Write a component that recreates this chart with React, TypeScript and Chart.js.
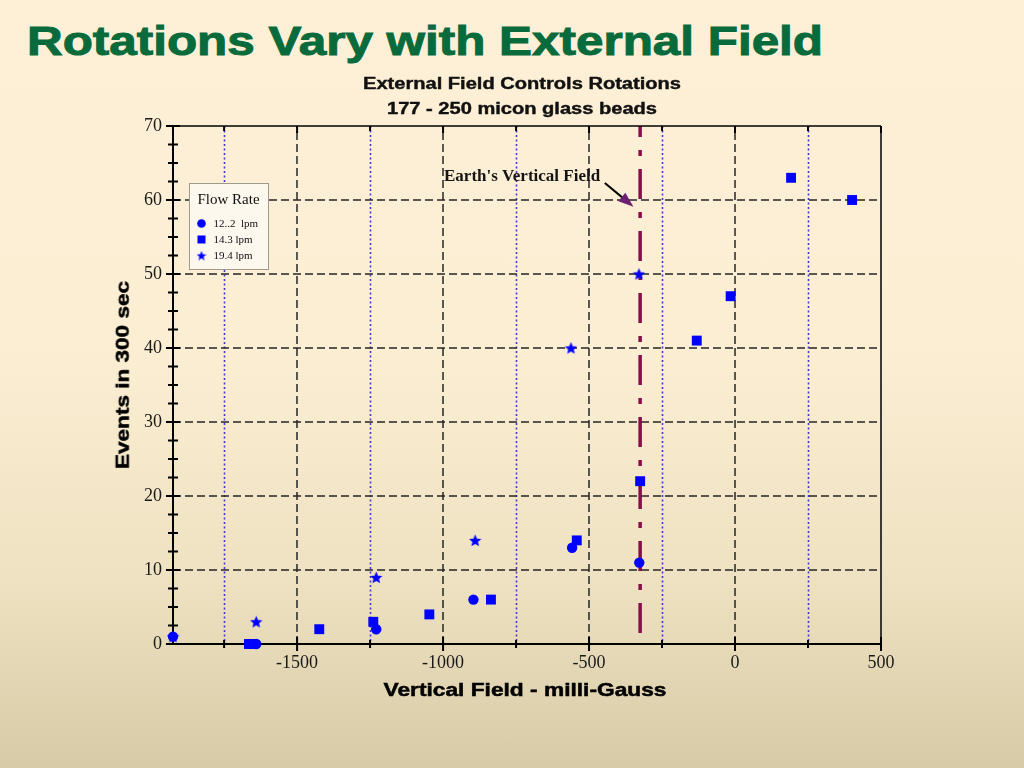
import React, { useEffect, useRef } from "react";
import { Chart, registerables } from "chart.js";

Chart.register(...registerables);

// ---- Text ----
const TITLE = "Rotations Vary with External Field";
const SUBTITLE_1 = "External Field Controls Rotations";
const SUBTITLE_2 = "177 - 250 micon glass beads";
const X_TITLE = "Vertical Field - milli-Gauss";
const Y_TITLE = "Events in 300 sec";
const LEGEND_TITLE = "Flow Rate";
const ANNOTATION = "Earth's Vertical Field";

// ---- Axes ----
const X_MIN = -1925;
const X_MAX = 500;
const Y_MIN = 0;
const Y_MAX = 70;
const xTickValues = [-1500, -1000, -500, 0, 500];
const xMinorGrid = [-1750, -1250, -750, -250, 250];
const yTickValues = [0, 10, 20, 30, 40, 50, 60, 70];

// ---- Series ----
const seriesLabels = ["12..2  lpm", "14.3 lpm", "19.4 lpm"];
const flow122X = [-1925, -1640, -1229, -896, -558, -328];
const flow122Y = [1, 0, 2, 6, 13, 11];
const flow143X = [-1665, -1652, -1424, -1239, -1047, -836, -542, -325, -131, -15, 192, 401];
const flow143Y = [0, 0, 2, 3, 4, 6, 14, 22, 41, 47, 63, 60];
const flow194X = [-1925, -1640, -1229, -890, -562, -329];
const flow194Y = [1, 3, 9, 14, 40, 50];

// ---- Annotation (data coordinates) ----
const earthFieldX = -325;
const earthLineYRange = [1.5, 70];
const annotationTextAt = [-462, 63.1];
const arrowFrom = [-446, 62.3];
const arrowTo = [-348, 59.1];

const SANS = '"Liberation Sans", Arial, Helvetica, sans-serif';
const SERIF = '"Liberation Serif", "Times New Roman", Times, serif';
const BLUE = "#0000FF";

let measureCtx: CanvasRenderingContext2D | null = null;
function measure(text: string, font: string): number {
  if (!measureCtx) measureCtx = document.createElement("canvas").getContext("2d");
  if (!measureCtx) return 1;
  measureCtx.font = font;
  return measureCtx.measureText(text).width || 1;
}

function makeStar(size: number, color: string): HTMLCanvasElement {
  const c = document.createElement("canvas");
  c.width = size;
  c.height = size;
  const g = c.getContext("2d")!;
  const cx = size / 2, cy = size / 2 + 0.6;
  const R = size / 2, r = R * 0.45;
  g.beginPath();
  for (let i = 0; i < 10; i++) {
    const ang = -Math.PI / 2 + (i * Math.PI) / 5;
    const rad = i % 2 === 0 ? R : r;
    const px = cx + rad * Math.cos(ang);
    const py = cy + rad * Math.sin(ang);
    if (i === 0) g.moveTo(px, py);
    else g.lineTo(px, py);
  }
  g.closePath();
  g.fillStyle = color;
  g.fill();
  return c;
}

function toPoints(xs: number[], ys: number[]) {
  return xs.map((x, i) => ({ x, y: ys[i] }));
}

export default function App() {
  const canvasRef = useRef<HTMLCanvasElement | null>(null);

  useEffect(() => {
    const canvas = canvasRef.current;
    if (!canvas) return;
    const star = makeStar(13, BLUE);
    const legendStar = makeStar(10, BLUE);

    const decor = {
      id: "decor",
      beforeDatasetsDraw(chart: any) {
        const { ctx, chartArea: a } = chart;
        const xs = chart.scales.x;
        const ys = chart.scales.y;
        const line = (x1: number, y1: number, x2: number, y2: number) => {
          ctx.beginPath();
          ctx.moveTo(x1, y1);
          ctx.lineTo(x2, y2);
          ctx.stroke();
        };
        ctx.save();
        // minor dotted grid
        ctx.strokeStyle = "#4038cc";
        ctx.lineWidth = 1.6;
        ctx.setLineDash([2, 2.5]);
        for (const v of xMinorGrid) {
          const px = Math.round(xs.getPixelForValue(v)) + 0.5;
          line(px, a.top, px, a.bottom);
        }
        // major dashed grid
        ctx.strokeStyle = "#262626";
        ctx.lineWidth = 1.5;
        ctx.setLineDash([8, 4]);
        for (const v of xTickValues) {
          if (v <= X_MIN || v >= X_MAX) continue;
          const px = Math.round(xs.getPixelForValue(v));
          line(px, a.bottom, px, a.top);
        }
        for (const v of yTickValues) {
          if (v <= Y_MIN || v >= Y_MAX) continue;
          const py = Math.round(ys.getPixelForValue(v));
          line(a.left, py, a.right, py);
        }
        // Earth's vertical field line
        ctx.strokeStyle = "#8a0d4a";
        ctx.lineWidth = 3.5;
        ctx.setLineDash([30, 13, 6, 13]);
        const ex = xs.getPixelForValue(earthFieldX);
        line(ex, ys.getPixelForValue(earthLineYRange[0]), ex, ys.getPixelForValue(earthLineYRange[1]));
        // frame
        ctx.setLineDash([]);
        ctx.strokeStyle = "#000";
        ctx.lineWidth = 1.5;
        line(a.left, a.top, a.right, a.top);
        line(a.right, a.top, a.right, a.bottom);
        ctx.lineWidth = 2;
        line(a.left, a.top - 1, a.left, a.bottom + 1);
        line(a.left - 1, a.bottom, a.right + 1, a.bottom);
        // ticks
        ctx.lineWidth = 2;
        for (let i = 0; i < yTickValues.length; i++) {
          const v = yTickValues[i];
          const py = ys.getPixelForValue(v);
          line(a.left - 7, py, a.left + 7, py);
          if (i < yTickValues.length - 1) {
            const step = (yTickValues[i + 1] - v) / 4;
            for (let k = 1; k < 4; k++) {
              const pm = ys.getPixelForValue(v + k * step);
              line(a.left - 5, pm, a.left + 5, pm);
            }
          }
        }
        for (const v of xTickValues) {
          const px = xs.getPixelForValue(v);
          line(px, a.bottom - 7, px, a.bottom + 7);
          line(px, a.top, px, a.top + 7);
        }
        for (const v of xMinorGrid) {
          const px = xs.getPixelForValue(v);
          line(px, a.bottom - 4, px, a.bottom + 4);
          line(px, a.top, px, a.top + 5);
        }
        ctx.restore();
      },
      afterDatasetsDraw(chart: any) {
        const { ctx, chartArea: a } = chart;
        const xs = chart.scales.x;
        const ys = chart.scales.y;
        ctx.save();
        // annotation text
        ctx.font = `bold 17px ${SERIF}`;
        ctx.fillStyle = "#141414";
        ctx.textAlign = "right";
        ctx.textBaseline = "middle";
        ctx.fillText(ANNOTATION, xs.getPixelForValue(annotationTextAt[0]), ys.getPixelForValue(annotationTextAt[1]));
        // arrow
        const x1 = xs.getPixelForValue(arrowFrom[0]);
        const y1 = ys.getPixelForValue(arrowFrom[1]);
        const x2 = xs.getPixelForValue(arrowTo[0]);
        const y2 = ys.getPixelForValue(arrowTo[1]);
        const dx = x2 - x1, dy = y2 - y1;
        const len = Math.hypot(dx, dy);
        const ux = dx / len, uy = dy / len;
        const headLen = 15, headW = 5.5;
        const bx = x2 - ux * headLen, by = y2 - uy * headLen;
        ctx.strokeStyle = "#000";
        ctx.lineWidth = 2.2;
        ctx.beginPath();
        ctx.moveTo(x1, y1);
        ctx.lineTo(bx + ux * 3, by + uy * 3);
        ctx.stroke();
        ctx.fillStyle = "#6e1f72";
        ctx.beginPath();
        ctx.moveTo(x2, y2);
        ctx.lineTo(bx - uy * headW, by + ux * headW);
        ctx.lineTo(bx + uy * headW, by - ux * headW);
        ctx.closePath();
        ctx.fill();

        // legend
        const lx = a.left + 16.5, ly = a.top + 57.5, lw = 79, lh = 86;
        ctx.fillStyle = "#fcf8ee";
        ctx.fillRect(lx, ly, lw, lh);
        ctx.strokeStyle = "#a09a8c";
        ctx.lineWidth = 1;
        ctx.strokeRect(lx, ly, lw, lh);
        ctx.fillStyle = "#111";
        ctx.textAlign = "left";
        ctx.textBaseline = "middle";
        ctx.font = `15px ${SERIF}`;
        ctx.fillText(LEGEND_TITLE, lx + 8, ly + 17);
        ctx.font = `11px ${SERIF}`;
        chart.data.datasets.forEach((ds: any, i: number) => {
          const my = ly + 40 + 16 * i;
          const mx = lx + 12;
          ctx.fillStyle = BLUE;
          if (ds.pointStyle === "circle") {
            ctx.beginPath();
            ctx.arc(mx, my, 4.3, 0, Math.PI * 2);
            ctx.fill();
          } else if (ds.pointStyle === "rect") {
            ctx.fillRect(mx - 4, my - 4, 8, 8);
          } else {
            ctx.drawImage(legendStar, mx - 5, my - 5);
          }
          ctx.fillStyle = "#111";
          ctx.fillText(ds.label, lx + 24, my + 0.5);
        });
        ctx.restore();
      },
    };

    const tickFont = { family: SERIF, size: 18 };
    const chart = new Chart(canvas, {
      type: "scatter",
      data: {
        datasets: [
          {
            label: seriesLabels[0],
            data: toPoints(flow122X, flow122Y),
            pointStyle: "circle",
            pointRadius: 5.2,
            pointHoverRadius: 5.2,
            backgroundColor: BLUE,
            borderColor: BLUE,
            borderWidth: 0,
            clip: false,
          },
          {
            label: seriesLabels[1],
            data: toPoints(flow143X, flow143Y),
            pointStyle: "rect",
            pointRadius: 7,
            pointHoverRadius: 7,
            backgroundColor: BLUE,
            borderColor: BLUE,
            borderWidth: 0,
            clip: false,
          },
          {
            label: seriesLabels[2],
            data: toPoints(flow194X, flow194Y),
            pointStyle: star as any,
            pointRadius: 6.5,
            pointHoverRadius: 6.5,
            backgroundColor: BLUE,
            borderColor: BLUE,
            borderWidth: 0,
            clip: false,
          },
        ] as any,
      },
      options: {
        responsive: false,
        maintainAspectRatio: false,
        animation: false,
        events: [],
        layout: { padding: { left: 0, top: 126, right: 143, bottom: 0 } },
        plugins: {
          legend: { display: false },
          tooltip: { enabled: false },
          title: { display: false },
        },
        scales: {
          x: {
            type: "linear",
            min: X_MIN,
            max: X_MAX,
            grid: { display: false, drawTicks: false },
            border: { display: false },
            afterBuildTicks: (s: any) => {
              s.ticks = xTickValues.map((v) => ({ value: v }));
            },
            afterFit: (s: any) => {
              s.height = 124;
            },
            ticks: {
              callback: (v: any) => String(v),
              font: tickFont,
              color: "#1a1a1a",
              padding: 8,
              maxRotation: 0,
              autoSkip: false,
            },
          },
          y: {
            type: "linear",
            min: Y_MIN,
            max: Y_MAX,
            grid: { display: false, drawTicks: false },
            border: { display: false },
            afterBuildTicks: (s: any) => {
              s.ticks = yTickValues.map((v) => ({ value: v }));
            },
            afterFit: (s: any) => {
              s.width = 173;
            },
            ticks: {
              callback: (v: any) => String(v),
              font: tickFont,
              color: "#1a1a1a",
              padding: 11,
              autoSkip: false,
            },
          },
        },
      } as any,
      plugins: [decor as any],
    });
    return () => chart.destroy();
  }, []);

  const titleFont = `bold 41px ${SANS}`;
  const sub1Font = `bold 16px ${SANS}`;
  const axisFont = `bold 18.5px ${SANS}`;
  const titleScale = 796 / measure(TITLE, titleFont);
  const sub1Scale = 318 / measure(SUBTITLE_1, sub1Font);
  const sub2Scale = 270 / measure(SUBTITLE_2, sub1Font);
  const xTitleScale = 283 / measure(X_TITLE, axisFont);
  const yTitleScale = 188 / measure(Y_TITLE, axisFont);

  const base: React.CSSProperties = {
    position: "absolute",
    whiteSpace: "nowrap",
    margin: 0,
    fontFamily: SANS,
    fontWeight: "bold",
  };

  return (
    <div
      style={{
        position: "fixed",
        left: 0,
        top: 0,
        width: 1024,
        height: 768,
        overflow: "hidden",
        background: "linear-gradient(to bottom, #fef0d7 0%, #fbeed3 45%, #efe2c2 75%, #d7cba7 100%)",
      }}
    >
      <div
        style={{
          ...base,
          left: 27,
          top: 21,
          fontSize: 41,
          lineHeight: "41px",
          color: "#096b3c",
          WebkitTextStroke: "1px #096b3c",
          transformOrigin: "left top",
          transform: `scale(${titleScale}, 1)`,
        }}
      >
        {TITLE}
      </div>
      <canvas
        ref={canvasRef}
        width={1024}
        height={768}
        style={{ position: "absolute", left: 0, top: 0, width: 1024, height: 768 }}
      />
      <div
        style={{
          ...base,
          left: 522,
          top: 76,
          fontSize: 16,
          lineHeight: "16px",
          color: "#111",
          WebkitTextStroke: "0.4px #111",
          transform: `translateX(-50%) scale(${sub1Scale}, 1)`,
        }}
      >
        {SUBTITLE_1}
      </div>
      <div
        style={{
          ...base,
          left: 522,
          top: 101,
          fontSize: 16,
          lineHeight: "16px",
          color: "#111",
          WebkitTextStroke: "0.4px #111",
          transform: `translateX(-50%) scale(${sub2Scale}, 1)`,
        }}
      >
        {SUBTITLE_2}
      </div>
      <div
        style={{
          ...base,
          left: 524.5,
          top: 681,
          fontSize: 18.5,
          lineHeight: "18.5px",
          color: "#000",
          WebkitTextStroke: "0.5px #000",
          transform: `translateX(-50%) scale(${xTitleScale}, 1)`,
        }}
      >
        {X_TITLE}
      </div>
      <div
        style={{
          ...base,
          left: 123,
          top: 375,
          fontSize: 18.5,
          lineHeight: "18.5px",
          color: "#000",
          WebkitTextStroke: "0.5px #000",
          transform: `translate(-50%, -50%) rotate(-90deg) scale(${yTitleScale}, 1)`,
        }}
      >
        {Y_TITLE}
      </div>
    </div>
  );
}
